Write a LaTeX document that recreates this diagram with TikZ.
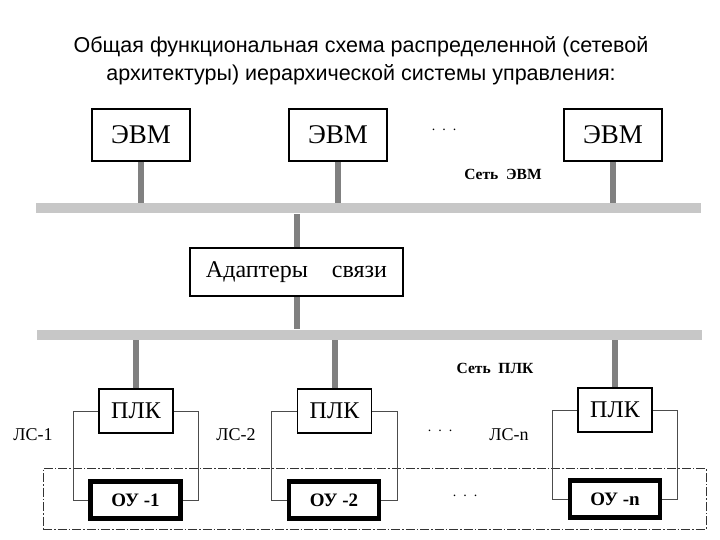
\documentclass[tikz,border=0pt]{standalone}
\usepackage{fontspec}
\setmainfont{Liberation Serif}
\newfontfamily\titlefont{Liberation Sans}
\usetikzlibrary{positioning}

\begin{document}
\begin{tikzpicture}[
    x=1pt, y=-1pt,
    box/.style={rectangle, draw=black, line width=1.6pt, inner sep=0pt, fill=white},
    evmbox/.style={box, minimum width=98pt, minimum height=52pt, font=\fontsize{27}{30}\selectfont},
    plcbox/.style={box, minimum width=74pt, minimum height=44pt, font=\fontsize{24}{26}\selectfont},
    oubox/.style={box, line width=4.5pt, minimum width=90pt, minimum height=37pt, font=\fontsize{19}{21}\selectfont\bfseries},
    bus/.style={rectangle, fill=black!22, inner sep=0pt, minimum width=665pt, minimum height=10pt},
    stub/.style={draw=black!50, line width=6pt},
    link/.style={draw=black!70, line width=0.9pt},
    netlabel/.style={font=\fontsize{15.5}{17}\selectfont\bfseries},
    lslabel/.style={font=\fontsize{18}{20}\selectfont},
    dots/.style={font=\fontsize{14}{16}\selectfont},
    frame/.style={rectangle, draw=black!80, line width=1pt, dash pattern=on 9pt off 2pt on 1.5pt off 2pt,
      inner sep=0pt, minimum width=663pt, minimum height=61pt},
  ]
    \useasboundingbox (0,0) rectangle (720,540);
    \node[align=center, font=\titlefont\fontsize{21.5}{28}\selectfont] (title) at (361,61)
      {Общая функциональная схема распределенной (сетевой\\архитектуры) иерархической системы управления:};

    % upper level
    \node[evmbox] (evm1) at (141,135) {ЭВМ};
    \node[evmbox] (evm2) at (338,135) {ЭВМ};
    \node[evmbox] (evm3) at (613,135) {ЭВМ};
    \node[dots] (dotsevm) at (444,130) {.~~.~~.};
    \node[bus] (busevm) at (368,208.5) {};
    \node[netlabel] (netevm) at (503,174) {Сеть\enspace ЭВМ};
    \foreach \n in {evm1,evm2,evm3}
      \draw[stub] (\n.south) -- (\n.south |- busevm.north);

    \node[box, minimum width=213pt, minimum height=48pt, font=\fontsize{24}{26}\selectfont]
      (adapter) at (296.5,272) {Адаптеры\quad связи};
    \node[bus] (busplc) at (369,334.5) {};
    \node[netlabel] (netplc) at (495,368) {Сеть\enspace ПЛК};
    \draw[stub] (adapter.north) -- (adapter.north |- busevm.south);
    \draw[stub] (adapter.south) -- (adapter.south |- busplc.north);

    % lower level
    \node[frame] (group) at (374.5,498.5) {};
    \node[plcbox] (plc1) at (136,411) {ПЛК};
    \node[plcbox] (plc2) at (334.5,411) {ПЛК};
    \node[plcbox] (plc3) at (615,410) {ПЛК};
    \node[oubox] (ou1) at (135.5,500) {ОУ -1};
    \node[oubox] (ou2) at (334,500) {ОУ -2};
    \node[oubox] (ou3) at (615,499) {ОУ -n};
    \node[lslabel] (ls1) at (33,435) {ЛС-1};
    \node[lslabel] (ls2) at (236,435) {ЛС-2};
    \node[lslabel] (lsn) at (509,435) {ЛС-n};
    \node[dots] (dotsplc) at (440,431) {.~~.~~.};
    \node[dots] (dotsou) at (465,496) {.~~.~~.};
    \foreach \i in {1,2,3} {
      \draw[stub] (plc\i.north) -- (plc\i.north |- busplc.south);
      \draw[link] (plc\i.west) -- ++(-25,0) |- (ou\i.west);
      \draw[link] (plc\i.east) -- ++(25,0) |- (ou\i.east);
    }
  \end{tikzpicture}
\end{document}
